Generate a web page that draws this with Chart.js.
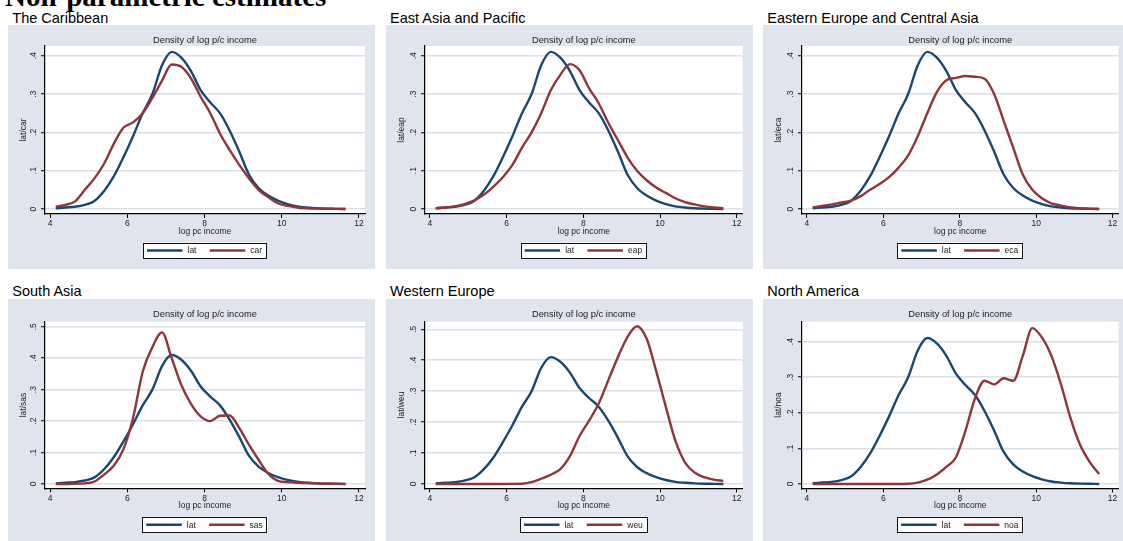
<!DOCTYPE html>
<html><head><meta charset="utf-8">
<script src="https://cdn.jsdelivr.net/npm/chart.js@4.4.1/dist/chart.umd.min.js"></script>
<style>
html,body{margin:0;padding:0;background:#fff;width:1123px;height:541px;overflow:hidden;position:relative;font-family:"Liberation Sans",Arial,sans-serif;}
.main{position:absolute;left:5px;top:-18.3px;font:bold 29px "Liberation Serif","Times New Roman",serif;line-height:1;white-space:nowrap;color:#000;}
.ptitle{position:absolute;font-size:14.5px;line-height:1;white-space:nowrap;color:#000;}
canvas{position:absolute;}
</style></head><body>
<div class="main">Non-parametric estimates</div>
<script>
// ---- data ----
const logIncome = [4.15,4.40,4.65,4.90,5.15,5.40,5.65,5.90,6.15,6.40,6.65,6.90,7.15,7.40,7.65,7.90,8.15,8.40,8.65,8.90,9.15,9.40,9.65,9.90,10.15,10.40,10.65,10.90,11.15,11.40,11.65];
const lat = [.002,.004,.006,.011,.021,.047,.085,.135,.19,.25,.30,.375,.41,.395,.36,.31,.278,.25,.205,.15,.09,.055,.035,.022,.013,.007,.004,.002,.001,.0005,0];
const car = [.006,.011,.02,.05,.08,.118,.17,.212,.226,.25,.29,.335,.377,.371,.341,.293,.25,.197,.154,.115,.08,.05,.031,.015,.008,.004,.002,.001,.001,.0005,0];
const eap = [.002,.004,.007,.013,.022,.037,.058,.083,.115,.16,.2,.25,.31,.35,.378,.362,.315,.276,.225,.18,.135,.1,.075,.056,.042,.028,.018,.012,.007,.004,.002];
const eca = [.004,.008,.012,.017,.022,.033,.05,.065,.083,.108,.14,.19,.25,.305,.336,.342,.347,.345,.34,.30,.23,.16,.09,.05,.028,.015,.009,.004,.002,.001,0];
const sas = [0,0,.001,.002,.008,.03,.058,.11,.21,.357,.435,.482,.40,.315,.255,.215,.2,.217,.218,.178,.125,.077,.033,.01,.006,.004,.003,.002,.001,.001,0];
const weu = [0,0,0,0,0,0,0,0,.0005,.001,.006,.017,.03,.048,.09,.155,.205,.26,.335,.41,.475,.51,.47,.365,.25,.14,.07,.037,.022,.014,.01];
const noa = [0,0,0,0,0,0,0,0,0,0,.0005,.004,.012,.027,.048,.075,.15,.241,.29,.28,.297,.29,.36,.438,.412,.36,.28,.185,.11,.062,.028];
const xTickValues = [4,6,8,10,12];
const yTicksLow = [0,.1,.2,.3,.4];
const yTicksHigh = [0,.1,.2,.3,.4,.5];
const regionTitles = ['The Caribbean','East Asia and Pacific','Eastern Europe and Central Asia','South Asia','Western Europe','North America'];
const regionCodes = ['car','eap','eca','sas','weu','noa'];
const regionSeries = [car,eap,eca,sas,weu,noa];

// ---- layout / style ----
const FONT = '"Liberation Sans", Arial, sans-serif';
const NAVY = '#1a476f', MAROON = '#90353b';
const BG = '#e0e4ef', GRID = '#d8e0ea';
const cols = [
  {left:8, w:367, yw:37, plotW:320, titleX:12.3},
  {left:386, w:367, yw:39, plotW:317.7, titleX:390},
  {left:763, w:360, yw:39, plotW:316.5, titleX:767.3}
];
const rows = [
  {top:25, h:244, tPadTop:9.4, tPadBot:0.44, plotBottom:189, titleTop:10.7},
  {top:299, h:242, tPadTop:9.4, tPadBot:2.14, plotBottom:189.3, titleTop:284.2}
];
const yRanges = [[-0.013,0.4253],[-0.013,0.4253],[-0.013,0.4253],[-0.0137,0.516],[-0.0139,0.5246],[-0.0121,0.456]];
const yTickSets = [yTicksLow,yTicksLow,yTicksLow,yTicksHigh,yTicksHigh,yTicksLow];

Chart.defaults.font.family = FONT;
Chart.defaults.color = '#222';

const bgPlugin = {
  id:'bgFill',
  beforeDraw(chart){
    const {ctx, chartArea:ca, width, height} = chart;
    ctx.save();
    ctx.fillStyle = BG; ctx.fillRect(0,0,width,height);
    ctx.fillStyle = '#fff'; ctx.fillRect(ca.left, ca.top, ca.right-ca.left, ca.bottom-ca.top);
    ctx.restore();
  }
};
const boxLegend = {
  id:'boxLegend',
  afterDraw(chart){
    const ctx = chart.ctx, ca = chart.chartArea;
    ctx.save();
    ctx.font = '8.5px ' + FONT;
    const items = chart.data.datasets.map(ds => ({label:ds.label, color:ds.borderColor, w:ctx.measureText(ds.label).width}));
    const lineLen = 35.5, gap = 5, itemGap = 13.3, padL = 4, padR = 4.9, h = 16;
    let total = padL + padR + itemGap*(items.length-1);
    items.forEach(it => total += lineLen + gap + it.w);
    const left = (ca.left + ca.right)/2 - total/2;
    const top = ca.bottom + 28.5;
    ctx.fillStyle = '#fff'; ctx.fillRect(left, top, total, h);
    ctx.strokeStyle = '#111'; ctx.lineWidth = 1;
    ctx.strokeRect(Math.round(left)+0.5, Math.round(top)+0.5, Math.round(total)-1, h-1);
    let x = left + padL; const my = top + h/2;
    items.forEach(it => {
      ctx.strokeStyle = it.color; ctx.lineWidth = 2.4;
      ctx.beginPath(); ctx.moveTo(x, my); ctx.lineTo(x+lineLen, my); ctx.stroke();
      x += lineLen + gap;
      ctx.fillStyle = '#222'; ctx.textBaseline = 'middle'; ctx.textAlign = 'left';
      ctx.fillText(it.label, x, my + 0.5);
      x += it.w + itemGap;
    });
    ctx.restore();
  }
};

regionCodes.forEach((code, idx) => {
  const col = cols[idx % 3], row = rows[Math.floor(idx / 3)];
  const t = document.createElement('div');
  t.className = 'ptitle'; t.textContent = regionTitles[idx];
  t.style.left = col.titleX + 'px'; t.style.top = row.titleTop + 'px';
  document.body.appendChild(t);

  const cv = document.createElement('canvas');
  cv.width = col.w; cv.height = row.h;
  cv.style.left = col.left + 'px'; cv.style.top = row.top + 'px';
  cv.style.width = col.w + 'px'; cv.style.height = row.h + 'px';
  document.body.appendChild(cv);

  const padRight = col.w - col.yw - col.plotW;
  const padBottom = row.h - row.plotBottom - 24;
  const ticksY = yTickSets[idx];
  const series = regionSeries[idx];

  new Chart(cv.getContext('2d'), {
    type:'line',
    data:{datasets:[
      {label:'lat', data: logIncome.map((x,i)=>({x, y:lat[i]})), borderColor:NAVY, backgroundColor:NAVY, borderWidth:2.4, pointRadius:0, cubicInterpolationMode:'monotone', fill:false, order:1},
      {label:code, data: logIncome.map((x,i)=>({x, y:series[i]})), borderColor:MAROON, backgroundColor:MAROON, borderWidth:2.4, pointRadius:0, cubicInterpolationMode:'monotone', fill:false, order:0}
    ]},
    options:{
      responsive:false, animation:false, events:[],
      layout:{padding:{left:0, top:0, right:padRight, bottom:padBottom}},
      plugins:{
        legend:{display:false}, tooltip:{enabled:false},
        title:{display:true, text:'Density of log p/c income', fullSize:false, color:'#222',
               font:{size:9.3, weight:'normal'}, padding:{top:row.tPadTop, bottom:row.tPadBot}}
      },
      scales:{
        x:{type:'linear', min:3.87, max:12.156,
           afterBuildTicks: s => { s.ticks = xTickValues.map(v => ({value:v})); },
           afterFit: s => { s.height = 24; },
           ticks:{autoSkip:false, maxRotation:0, minRotation:0, padding:1, font:{size:8.5}, color:'#222', callback:v => String(v)},
           grid:{drawOnChartArea:false, drawTicks:true, tickLength:4, tickColor:'#000', tickWidth:1},
           border:{display:true, color:'#000', width:1.2},
           title:{display:true, text:'log pc income', font:{size:8.5}, color:'#222', padding:{top:0, bottom:1.2}}
        },
        y:{type:'linear', min:yRanges[idx][0], max:yRanges[idx][1],
           afterBuildTicks: s => { s.ticks = ticksY.map(v => ({value:v})); },
           afterFit: s => { s.width = col.yw; },
           ticks:{minRotation:90, maxRotation:90, crossAlign:'center', padding:3.7, font:{size:8.5}, color:'#222',
                  callback:v => v === 0 ? '0' : v.toFixed(1).replace(/^0/, '')},
           grid:{color:GRID, lineWidth:1.5, drawTicks:true, tickLength:4, tickColor:'#000', tickWidth:1},
           border:{display:true, color:'#000', width:1.2},
           title:{display:true, text:'lat/' + code, font:{size:8.5}, color:'#222', padding:{top:10.5, bottom:0}}
        }
      }
    },
    plugins:[bgPlugin, boxLegend]
  });
});
</script>
</body></html>
